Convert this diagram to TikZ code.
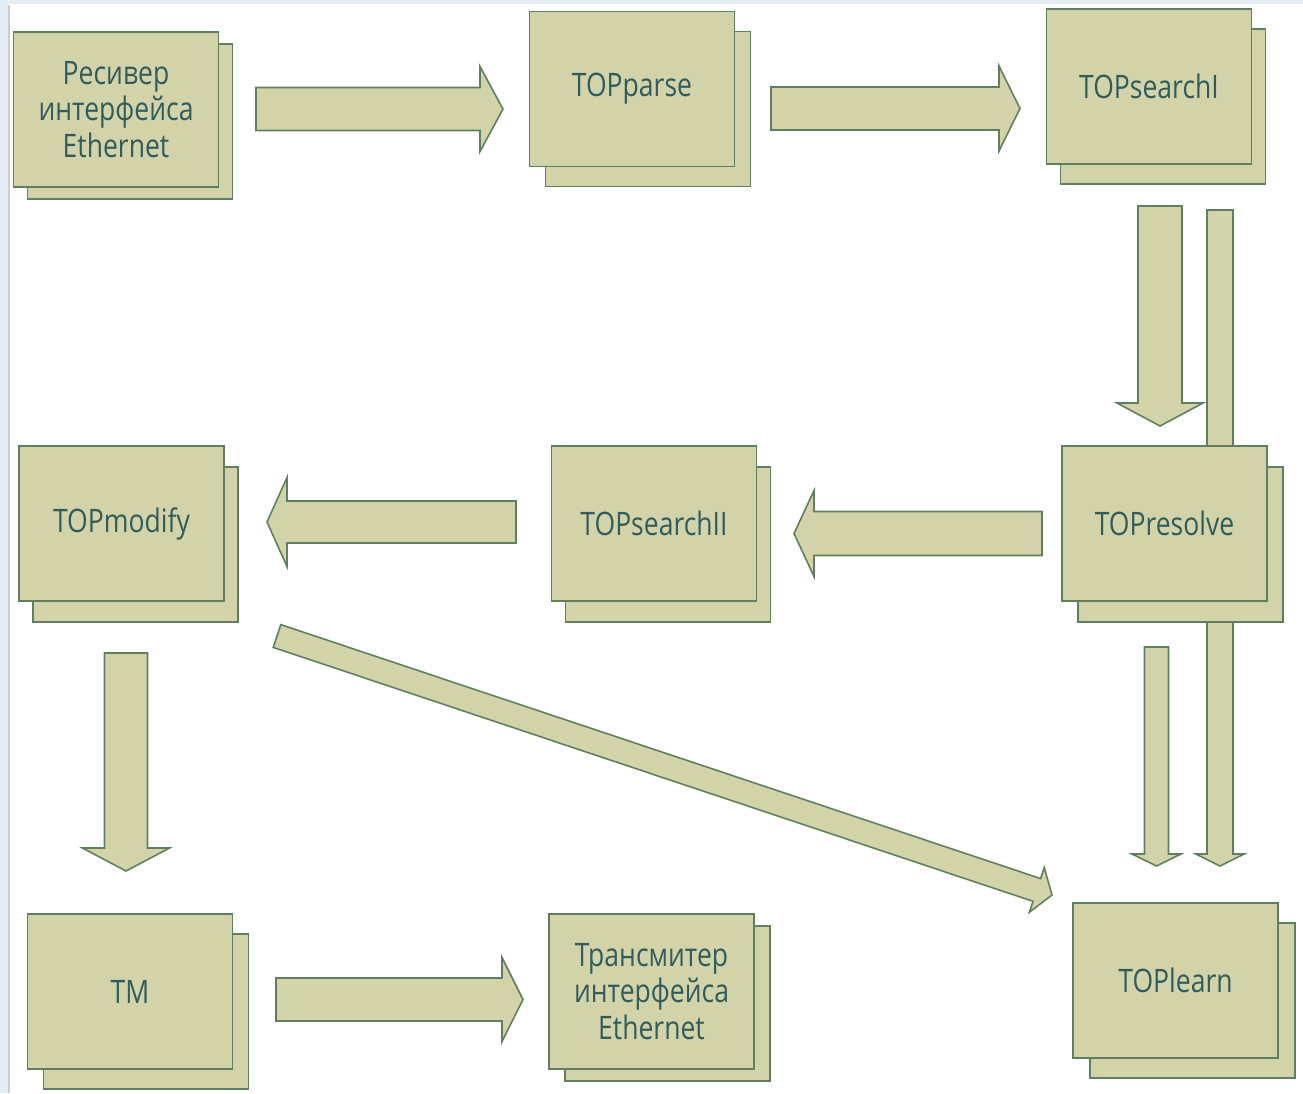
\documentclass[tikz,border=0pt]{standalone}
\usepackage{fontspec}
\usepackage{tikz}
\usetikzlibrary{calc,shadows,backgrounds}
\newfontfamily\boxfont[FakeStretch=0.82]{Open Sans}
\definecolor{boxfill}{RGB}{211,211,170}
\definecolor{boxline}{RGB}{96,126,96}
\definecolor{boxtext}{RGB}{48,92,92}
\definecolor{framebg}{RGB}{228,236,245}
\tikzset{
  blk/.style={draw=boxline, fill=boxfill, line width=0.45pt, minimum width=2.05cm,
    minimum height=1.55cm, inner sep=0pt, align=center, text=boxtext,
    font={\boxfont\fontsize{9.2pt}{10.3pt}\selectfont}},
  arrowbody/.style={draw=boxline, fill=boxfill, line width=0.45pt, line join=miter}
}
% block arrow: from, to, shaft half width, head half width, head length
\newcommand{\blockarrow}[5]{%
  \coordinate (hb) at ($(#2)!#5!(#1)$);
  \filldraw[arrowbody] ($(#1)!#3!90:(#2)$) -- ($(hb)!#3!90:(#2)$) -- ($(hb)!#4!90:(#2)$) -- (#2)
    -- ($(hb)!#4!-90:(#2)$) -- ($(hb)!#3!-90:(#2)$) -- ($(#1)!#3!-90:(#2)$) -- cycle;
}
\begin{document}
\begin{tikzpicture}[x=0.01cm, y=-0.01cm]
\useasboundingbox (0,0) rectangle (1303,1093);
\fill[framebg] (0,0) rectangle (1303,4);
\fill[framebg] (0,0) rectangle (8,1093);
\draw[gray!40, line width=0.5pt] (9,5) -- (9,1093);

% boxes
\node[blk, copy shadow={shadow xshift=0.14cm, shadow yshift=-0.12cm}] (rcv) at (116,109.5) {Ресивер\\интерфейса\\Ethernet};
\node[blk, copy shadow={shadow xshift=0.16cm, shadow yshift=-0.20cm}] (parse) at (632,89) {TOPparse};
\node[blk, copy shadow={shadow xshift=0.14cm, shadow yshift=-0.20cm}] (srchA) at (1149,86.5) {TOPsearchI};
\node[blk, copy shadow={shadow xshift=0.14cm, shadow yshift=-0.21cm}] (modify) at (121.5,523.5) {TOPmodify};
\node[blk, copy shadow={shadow xshift=0.14cm, shadow yshift=-0.21cm}] (srchB) at (654,523.5) {TOPsearchII};
\node[blk, copy shadow={shadow xshift=0.16cm, shadow yshift=-0.21cm}] (resolve) at (1164.5,523.5) {TOPresolve};
\node[blk, copy shadow={shadow xshift=0.16cm, shadow yshift=-0.20cm}] (tm) at (130,991.5) {TM};
\node[blk, copy shadow={shadow xshift=0.16cm, shadow yshift=-0.12cm}] (trans) at (651.5,991.5) {Трансмитер\\интерфейса\\Ethernet};
\node[blk, copy shadow={shadow xshift=0.17cm, shadow yshift=-0.20cm}] (learn) at (1175.5,980.5) {TOPlearn};

% arrow ends
\coordinate (rcv-o) at (256,109);    \coordinate (parse-i) at (503,109);
\coordinate (parse-o) at (771,108.5); \coordinate (srchA-i) at (1020,108.5);
\coordinate (srchA-o) at (1160,206); \coordinate (resolve-i) at (1160,426);
\coordinate (srchA-o2) at (1220,210); \coordinate (learn-i2) at (1220,866);
\coordinate (resolve-o) at (1156.5,647); \coordinate (learn-i) at (1156.5,866);
\coordinate (resolve-o2) at (1042,533.5); \coordinate (srchB-i) at (794,533.5);
\coordinate (srchB-o) at (516,522); \coordinate (modify-i) at (267,522);
\coordinate (modify-o) at (126,653); \coordinate (tm-i) at (126,871);
\coordinate (modify-o2) at (277,636); \coordinate (learn-i3) at (1052,895);
\coordinate (tm-o) at (276,999.5); \coordinate (trans-i) at (523,999.5);

\blockarrow{rcv-o}{parse-i}{0.215cm}{0.425cm}{0.23cm}
\blockarrow{parse-o}{srchA-i}{0.215cm}{0.425cm}{0.21cm}
\blockarrow{srchA-o}{resolve-i}{0.22cm}{0.43cm}{0.23cm}
\begin{pgfonlayer}{background}
\blockarrow{srchA-o2}{learn-i2}{0.13cm}{0.24cm}{0.12cm}
\end{pgfonlayer}
\blockarrow{resolve-o}{learn-i}{0.12cm}{0.245cm}{0.12cm}
\blockarrow{resolve-o2}{srchB-i}{0.22cm}{0.43cm}{0.20cm}
\blockarrow{srchB-o}{modify-i}{0.21cm}{0.445cm}{0.20cm}
\blockarrow{modify-o}{tm-i}{0.215cm}{0.435cm}{0.23cm}
\blockarrow{modify-o2}{learn-i3}{0.12cm}{0.235cm}{0.16cm}
\blockarrow{tm-o}{trans-i}{0.215cm}{0.42cm}{0.21cm}
\end{tikzpicture}
\end{document}
